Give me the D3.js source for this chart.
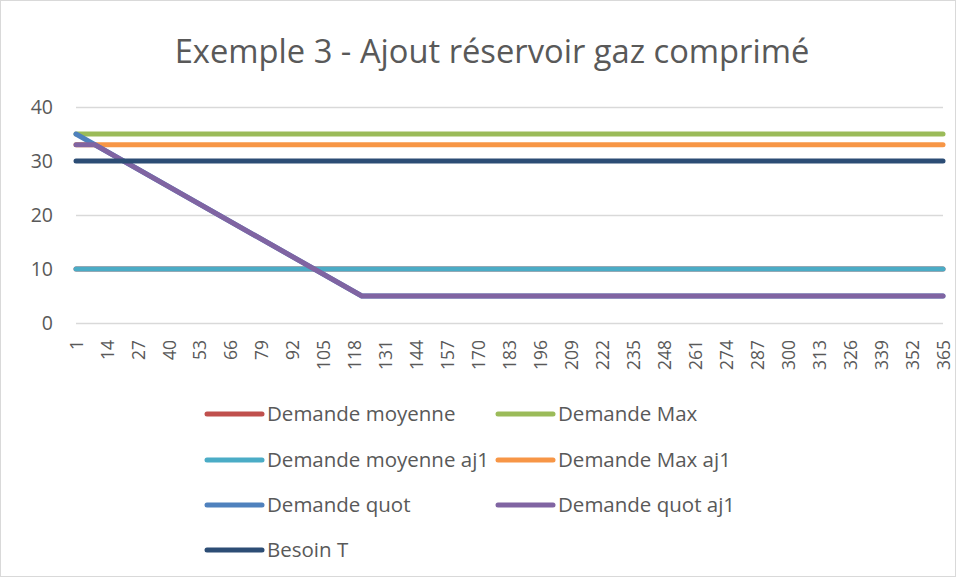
<!DOCTYPE html>
<html>
<head>
<meta charset="utf-8">
<script src="https://cdn.jsdelivr.net/npm/d3@7"></script>
<style>
  body { margin: 0; background: #fff; }
  svg { font-family: "Open Sans", sans-serif; }
</style>
</head>
<body>
<svg width="956" height="577"></svg>
<script>
// categories on the x axis (one per day)
let days = d3.range(1, 366);
let xTickLabels = [1, 14, 27, 40, 53, 66, 79, 92, 105, 118, 131, 144, 157, 170,
  183, 196, 209, 222, 235, 248, 261, 274, 287, 300, 313, 326, 339, 352, 365];
let yTicks = [0, 10, 20, 30, 40];

// each series as [day, value] break points
let demandeMoyenne    = [[1, 10], [365, 10]];
let demandeMax        = [[1, 35], [365, 35]];
let demandeMoyenneAj1 = [[1, 10], [365, 10]];
let demandeMaxAj1     = [[1, 33], [365, 33]];
let demandeQuot       = [[1, 35], [121, 5], [365, 5]];
let demandeQuotAj1    = [[1, 33], [9, 33], [121, 5], [365, 5]];
let besoinT           = [[1, 30], [365, 30]];

let seriesNames = ["Demande moyenne", "Demande Max", "Demande moyenne aj1",
  "Demande Max aj1", "Demande quot", "Demande quot aj1", "Besoin T"];
let seriesColors = ["#C0504D", "#9BBB59", "#4BACC6", "#F79646", "#4F81BD", "#8064A2", "#2C4D75"];
let seriesData = [demandeMoyenne, demandeMax, demandeMoyenneAj1, demandeMaxAj1,
  demandeQuot, demandeQuotAj1, besoinT];

let svg = d3.select("svg");

// chart border
svg.append("rect")
  .attr("x", 0.5).attr("y", 0.5)
  .attr("width", 955).attr("height", 576)
  .attr("fill", "#fff")
  .attr("stroke", "#d9d9d9");

// title
svg.append("text")
  .attr("x", 492)
  .attr("y", 63)
  .attr("text-anchor", "middle")
  .attr("fill", "#595959")
  .style("font-size", "32.7px")
  .text("Exemple 3 - Ajout réservoir gaz comprimé");

let xScale = d3.scalePoint()
  .domain(days)
  .range([76, 943]);

let yScale = d3.scaleLinear()
  .domain([0, 40])
  .range([323, 107]);

// gridlines + y labels
let yAxis = d3.axisLeft(yScale)
  .tickValues(yTicks)
  .tickSize(-(943 - 76))
  .tickPadding(23)
  .tickFormat(d3.format("d"));

let yGroup = svg.append("g")
  .attr("transform", "translate(76,0)")
  .call(yAxis);
yGroup.select(".domain").remove();
yGroup.selectAll(".tick line").attr("stroke", "#d9d9d9").attr("stroke-width", 1.3);
yGroup.selectAll(".tick text")
  .attr("fill", "#595959")
  .style("font-size", "19.5px")
  .style("font-family", "'Open Sans', sans-serif");

// x axis labels (rotated)
let xAxis = d3.axisBottom(xScale)
  .tickValues(xTickLabels)
  .tickSize(0)
  .tickPadding(0);

let xGroup = svg.append("g")
  .attr("transform", "translate(0,323)")
  .call(xAxis);
xGroup.select(".domain").remove();
xGroup.selectAll(".tick text")
  .attr("fill", "#595959")
  .style("font-size", "17.5px")
  .style("font-family", "'Open Sans', sans-serif")
  .attr("text-anchor", "end")
  .attr("dy", "0.35em")
  .attr("transform", "translate(0,17)rotate(-90)");

// lines
let line = d3.line()
  .x(d => xScale(d[0]))
  .y(d => yScale(d[1]));

svg.append("g").selectAll("path")
  .data(seriesData)
  .join("path")
  .attr("d", line)
  .attr("fill", "none")
  .attr("stroke", (d, i) => seriesColors[i])
  .attr("stroke-width", 5)
  .attr("stroke-linecap", "round")
  .attr("stroke-linejoin", "round");

// legend, two columns
let legendCols = [207, 498];
let legendRows = [414, 460, 505, 550];

let legend = svg.append("g").selectAll("g")
  .data(seriesNames)
  .join("g")
  .attr("transform", (d, i) =>
    "translate(" + legendCols[i % 2] + "," + legendRows[Math.floor(i / 2)] + ")");

legend.append("line")
  .attr("x1", 0).attr("x2", 55)
  .attr("y1", 0).attr("y2", 0)
  .attr("stroke", (d, i) => seriesColors[i])
  .attr("stroke-width", 5)
  .attr("stroke-linecap", "round");

legend.append("text")
  .attr("x", 60)
  .attr("y", 0)
  .attr("dy", "0.35em")
  .attr("fill", "#595959")
  .style("font-size", "20.5px")
  .text(d => d);
</script>
</body>
</html>
